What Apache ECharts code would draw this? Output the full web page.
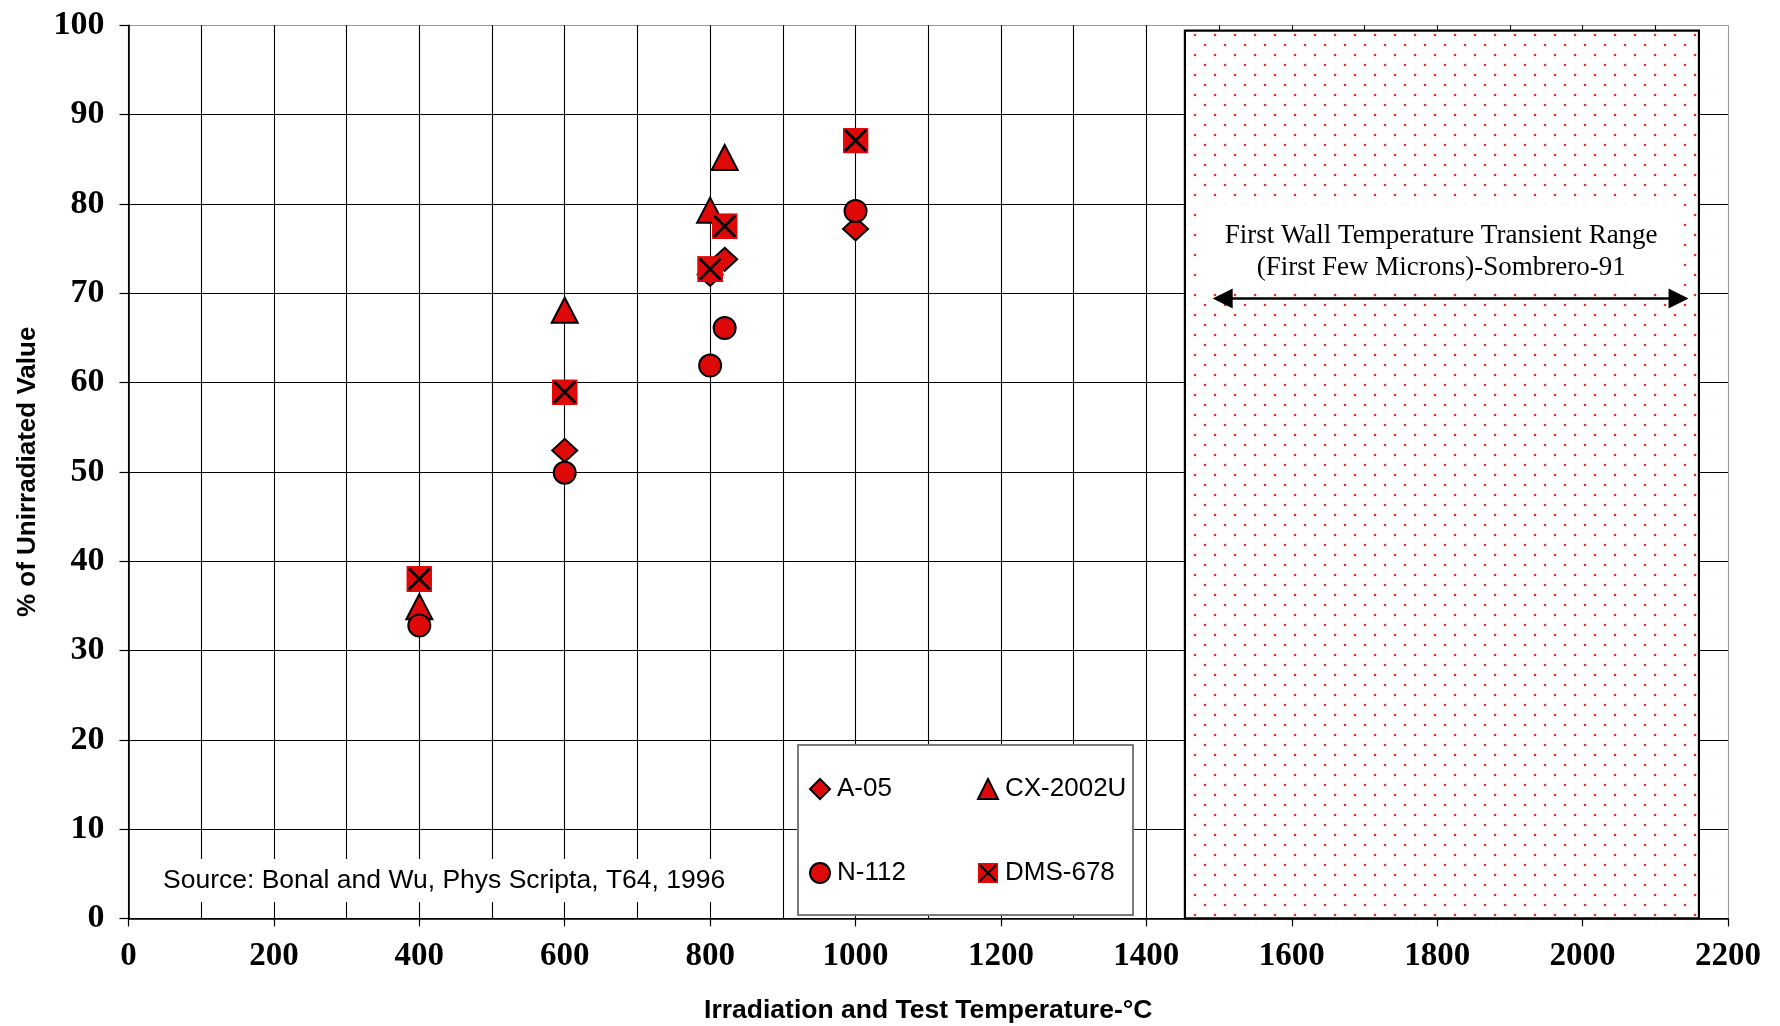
<!DOCTYPE html>
<html><head><meta charset="utf-8">
<script src="https://cdn.jsdelivr.net/npm/echarts@6/dist/echarts.min.js"></script>
<style>html,body{margin:0;padding:0;background:#fff}#c{width:1780px;height:1026px}</style>
</head><body><div id="c"></div>
<script>
// ---- data ----
const seriesNames = ['A-05', 'CX-2002U', 'N-112', 'DMS-678'];
const a05     = [[600, 52.4], [800, 72.1], [820, 73.8], [1000, 77.2]];
const cx2002u = [[400, 34.9], [600, 68.1], [800, 79.3], [820, 85.2]];
const n112    = [[400, 32.8], [600, 49.9], [800, 61.9], [820, 66.1], [1000, 79.2]];
const dms678  = [[400, 38.0], [600, 58.9], [800, 72.7], [820, 77.5], [1000, 87.1]];
const xAxisRange = [0, 2200, 200];
const yAxisRange = [0, 100, 10];
const rangeBox = [[1453, -0.7], [2160, 99.4]];
const rangeTextBox = [[1475, 80.0], [2136, 70.8]];
const rangeArrow = [[1505, 69.4], [2132, 69.4]];
const rangeText = ['First Wall Temperature Transient Range', '(First Few Microns)-Sombrero-91'];
const sourceText = 'Source: Bonal and Wu, Phys Scripta, T64, 1996';
const xName = 'Irradiation and Test Temperature-\u00B0C';
const yName = '% of Unirradiated Value';

// ---- styles ----
const RED = '#DE0A0A';
const SERIF = '"Liberation Serif", "Times New Roman", serif';
const SANS = '"Liberation Sans", Arial, sans-serif';

function dotPattern() {
  const c = document.createElement('canvas');
  c.width = 20; c.height = 20;
  const g = c.getContext('2d');
  g.fillStyle = '#fff'; g.fillRect(0, 0, 20, 20);
  g.fillStyle = '#ee2a2a';
  [[5, 5], [15, 15]].forEach(p => { g.beginPath(); g.arc(p[0], p[1], 1.3, 0, Math.PI * 2); g.fill(); });
  return c;
}
const dmsSvg = "<svg xmlns='http://www.w3.org/2000/svg' width='26' height='26' viewBox='0 0 26 26'>" +
  "<rect width='26' height='26' fill='" + RED + "'/>" +
  "<path d='M2.5 2.5L23.5 23.5M23.5 2.5L2.5 23.5' stroke='#000' stroke-width='2.8'/></svg>";
const dmsSymbol = 'image://data:image/svg+xml;charset=utf-8,' + encodeURIComponent(dmsSvg);

const yColors = []; for (let v = yAxisRange[0]; v <= yAxisRange[1]; v += yAxisRange[2]) yColors.push(v === yAxisRange[1] ? '#9a9a9a' : '#000');
const xColors = []; for (let v = xAxisRange[0]; v <= xAxisRange[1]; v += xAxisRange[2]) xColors.push(v === xAxisRange[1] ? '#9a9a9a' : '#000');

const chart = echarts.init(document.getElementById('c'), null, {renderer: 'canvas'});
const baseItem = {color: RED, borderColor: '#000', borderWidth: 2, opacity: 1};

chart.setOption({
  animation: false,
  backgroundColor: '#fff',
  grid: {left: 128.5, right: 52, top: 25.3, bottom: 107.6, outerBoundsMode: 'none', containLabel: false},
  title: {
    text: sourceText, left: 151, top: 859, padding: [7, 16, 7, 12], backgroundColor: '#fff',
    textStyle: {fontFamily: SANS, fontSize: 26.5, fontWeight: 'normal', color: '#000', lineHeight: 29}
  },
  xAxis: {
    type: 'value', min: xAxisRange[0], max: xAxisRange[1], interval: xAxisRange[2],
    name: xName, nameLocation: 'middle', nameGap: 79,
    nameTextStyle: {fontFamily: SANS, fontSize: 26.5, fontWeight: 'bold', color: '#000'},
    axisLine: {show: true, onZero: false, lineStyle: {color: '#000', width: 1.6}},
    axisTick: {show: true, inside: false, length: 8, lineStyle: {color: '#000', width: 1.2}},
    minorTick: {show: false, splitNumber: 2},
    axisLabel: {margin: 22, fontFamily: SERIF, fontSize: 33, fontWeight: 'bold', color: '#000',
                formatter: v => String(v)},
    splitLine: {show: true, lineStyle: {color: xColors, width: 1.1}},
    minorSplitLine: {show: true, lineStyle: {color: '#000', width: 1.1}}
  },
  yAxis: {
    type: 'value', min: yAxisRange[0], max: yAxisRange[1], interval: yAxisRange[2],
    name: yName, nameLocation: 'middle', nameGap: 88, nameRotate: 90,
    nameTextStyle: {fontFamily: SANS, fontSize: 26, fontWeight: 'bold', color: '#000'},
    axisLine: {show: true, onZero: false, lineStyle: {color: '#000', width: 1.6}},
    axisTick: {show: true, inside: false, length: 9, lineStyle: {color: '#000', width: 1.2}},
    axisLabel: {margin: 24, fontFamily: SERIF, fontSize: 34, fontWeight: 'bold', color: '#000',
                formatter: v => String(v)},
    splitLine: {show: true, lineStyle: {color: yColors, width: 1.1}}
  },
  legend: [
    {data: [seriesNames[0], seriesNames[2]], orient: 'vertical', left: 809, top: 776, padding: 0,
     itemWidth: 20, itemHeight: 20, itemGap: 58, z: 5,
     textStyle: {fontFamily: SANS, fontSize: 26, color: '#000', padding: [0, 0, 0, 2]}},
    {data: [seriesNames[1], seriesNames[3]], orient: 'vertical', left: 977, top: 776, padding: 0,
     itemWidth: 20, itemHeight: 20, itemGap: 58, z: 5,
     textStyle: {fontFamily: SANS, fontSize: 26, color: '#000', padding: [0, 0, 0, 2]}}
  ],
  graphic: [
    {type: 'rect', left: 797, top: 744, z: 3, shape: {width: 335, height: 170},
     style: {fill: '#fff', stroke: '#7a7a7a', lineWidth: 2}}
  ],
  series: [
    {
      name: seriesNames[0], type: 'scatter', data: a05, symbol: 'diamond', symbolSize: [25, 23],
      itemStyle: baseItem, z: 2, clip: false,
      markArea: {
        silent: true,
        data: [
          [{coord: rangeBox[0], itemStyle: {color: {image: dotPattern(), repeat: 'repeat'}, borderColor: '#000', borderWidth: 2.2}},
           {coord: rangeBox[1]}],
          [{coord: rangeTextBox[0], itemStyle: {color: '#fff', borderWidth: 0},
            label: {show: true, position: 'inside', offset: [0, 7], formatter: rangeText.join('\n'),
                    fontFamily: SERIF, fontSize: 27, lineHeight: 32, color: '#000'}},
           {coord: rangeTextBox[1]}]
        ],
        label: {show: false}
      },
      markLine: {
        silent: true, symbol: ['triangle', 'triangle'], symbolSize: [20, 20],
        lineStyle: {color: '#000', width: 2.5, type: 'solid'},
        label: {show: false},
        data: [[{coord: rangeArrow[0]}, {coord: rangeArrow[1]}]]
      }
    },
    {name: seriesNames[1], type: 'scatter', data: cx2002u, symbol: 'triangle', symbolSize: [26, 25], itemStyle: baseItem, z: 2},
    {name: seriesNames[2], type: 'scatter', data: n112, symbol: 'circle', symbolSize: 22, itemStyle: baseItem, z: 2},
    {name: seriesNames[3], type: 'scatter', data: dms678, symbol: dmsSymbol, symbolSize: 26,
     itemStyle: {color: RED, borderWidth: 0, opacity: 1}, z: 2}
  ]
});
</script>
</body></html>
